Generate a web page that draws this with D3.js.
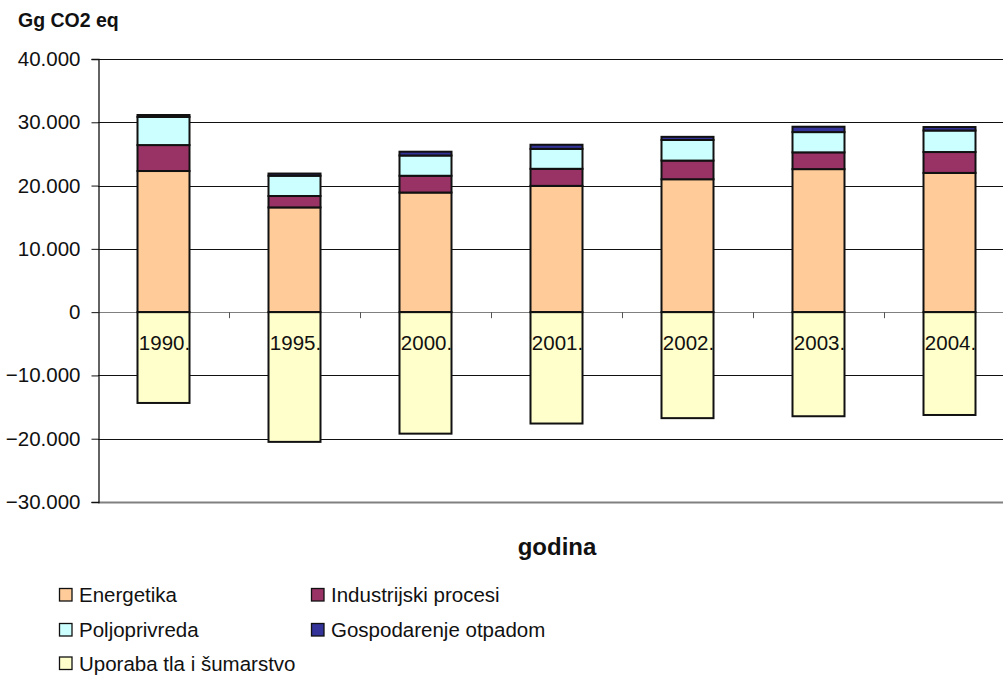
<!DOCTYPE html>
<html>
<head>
<meta charset="utf-8">
<script src="https://cdn.jsdelivr.net/npm/d3@7"></script>
<style>
  body { margin: 0; background: #fff; }
  svg { display: block; font-family: "Liberation Sans", Arial, sans-serif; }
</style>
</head>
<body>
<svg id="chart"></svg>
<script>
const width = 1003;
const height = 675;
const margin = {left: 98, right: -12, top: 59, bottom: 173};

// values, Gg CO2 eq
const years = ["1990.", "1995.", "2000.", "2001.", "2002.", "2003.", "2004."];
const energetika = [22300, 16550, 18900, 19950, 21000, 22600, 22000];
const industrija = [4100, 1800, 2650, 2700, 2950, 2650, 3300];
const poljoprivreda = [4450, 3200, 3200, 3150, 3250, 3200, 3400];
const otpad = [300, 350, 600, 650, 500, 850, 550];
const uporaba = [-14350, -20500, -19200, -17600, -16750, -16450, -16250];

const yTicks = [-30000, -20000, -10000, 0, 10000, 20000, 30000, 40000];

const series = [
    {key: "energetika", name: "Energetika", color: "#ffcc99", values: energetika},
    {key: "industrija", name: "Industrijski procesi", color: "#993366", values: industrija},
    {key: "poljoprivreda", name: "Poljoprivreda", color: "#ccffff", values: poljoprivreda},
    {key: "otpad", name: "Gospodarenje otpadom", color: "#333399", values: otpad},
    {key: "uporaba", name: "Uporaba tla i šumarstvo", color: "#ffffcc", values: uporaba}
];

const table = years.map((y, i) => {
    const row = {year: y};
    series.forEach(s => { row[s.key] = s.values[i]; });
    return row;
});

const svg = d3.select("#chart")
    .attr("width", width)
    .attr("height", height);

const x = d3.scaleBand()
    .domain(years)
    .range([margin.left, width - margin.right])
    .paddingInner(0)
    .paddingOuter(0);

const y = d3.scaleLinear()
    .domain([-30000, 40000])
    .range([height - margin.bottom, margin.top]);

const fmt = d => d === 0 ? "0" : d3.format(",")(d).replace(/,/g, ".");

// gridlines
svg.append("g")
    .selectAll("line")
    .data(yTicks)
    .enter().append("line")
        .attr("x1", margin.left)
        .attr("x2", width - margin.right)
        .attr("y1", d => Math.round(y(d)) + 0.5)
        .attr("y2", d => Math.round(y(d)) + 0.5)
        .attr("stroke", d => d === -30000 || d === 0 ? "#808080" : "#111")
        .attr("stroke-width", d => d === -30000 ? 2 : 1);

// stacked bars, Uporaba goes below zero
const stack = d3.stack()
    .keys(series.map(s => s.key))
    .offset(d3.stackOffsetDiverging);

const stacked = stack(table);
const barW = 52;

const layers = svg.append("g")
    .selectAll("g")
    .data(stacked)
    .enter().append("g")
        .attr("fill", (d, i) => series[i].color);

layers.selectAll("rect")
    .data(d => d)
    .enter().append("rect")
        .attr("x", d => x(d.data.year) + x.bandwidth() / 2 - barW / 2)
        .attr("width", barW)
        .attr("y", d => y(Math.max(d[0], d[1])))
        .attr("height", d => Math.abs(y(d[0]) - y(d[1])))
        .attr("stroke", "#111")
        .attr("stroke-width", 2);

// y axis
const yAxis = svg.append("g")
    .attr("transform", `translate(${margin.left + 0.5},0)`)
    .call(d3.axisLeft(y).tickValues(yTicks).tickFormat(fmt).tickSize(7).tickPadding(11));
yAxis.select(".domain").attr("stroke", "#111").attr("stroke-width", 1.3);
yAxis.selectAll(".tick line").attr("stroke", "#111");
yAxis.selectAll("text")
    .attr("font-size", "20.5px")
    .attr("fill", "#111")
    .style("font-family", "'Liberation Sans', Arial, sans-serif");

// category boundary ticks on the zero line
svg.append("g")
    .selectAll("line")
    .data(years.slice(1))
    .enter().append("line")
        .attr("x1", d => Math.round(x(d)) + 0.5)
        .attr("x2", d => Math.round(x(d)) + 0.5)
        .attr("y1", y(0))
        .attr("y2", y(0) + 6)
        .attr("stroke", "#555");

// category labels sit just under zero, over the bars
svg.append("g")
    .selectAll("text")
    .data(years)
    .enter().append("text")
        .attr("x", d => x(d) + x.bandwidth() / 2 + 1)
        .attr("y", y(0) + 38)
        .attr("text-anchor", "middle")
        .attr("font-size", "20.5px")
        .attr("fill", "#111")
        .text(d => d);

// titles
svg.append("text")
    .attr("x", 18)
    .attr("y", 27)
    .attr("font-size", "19.5px")
    .attr("font-weight", "bold")
    .attr("fill", "#111")
    .text("Gg CO2 eq");

svg.append("text")
    .attr("x", 557)
    .attr("y", 555)
    .attr("text-anchor", "middle")
    .attr("font-size", "24px")
    .attr("font-weight", "bold")
    .attr("fill", "#111")
    .text("godina");

// legend, two columns
const legendPos = [
    [59, 595], [311, 595],
    [59, 630], [311, 630],
    [59, 663.5]
];

const legend = svg.append("g")
    .selectAll("g")
    .data(series)
    .enter().append("g")
        .attr("transform", (d, i) => `translate(${legendPos[i][0]},${legendPos[i][1]})`);

legend.append("rect")
    .attr("x", 0.5)
    .attr("y", -6.5)
    .attr("width", 12.5)
    .attr("height", 12.5)
    .attr("fill", d => d.color)
    .attr("stroke", "#111")
    .attr("stroke-width", 1.3);

legend.append("text")
    .attr("x", 20)
    .attr("y", 7)
    .attr("font-size", "20.5px")
    .attr("fill", "#111")
    .text(d => d.name);
</script>
</body>
</html>
